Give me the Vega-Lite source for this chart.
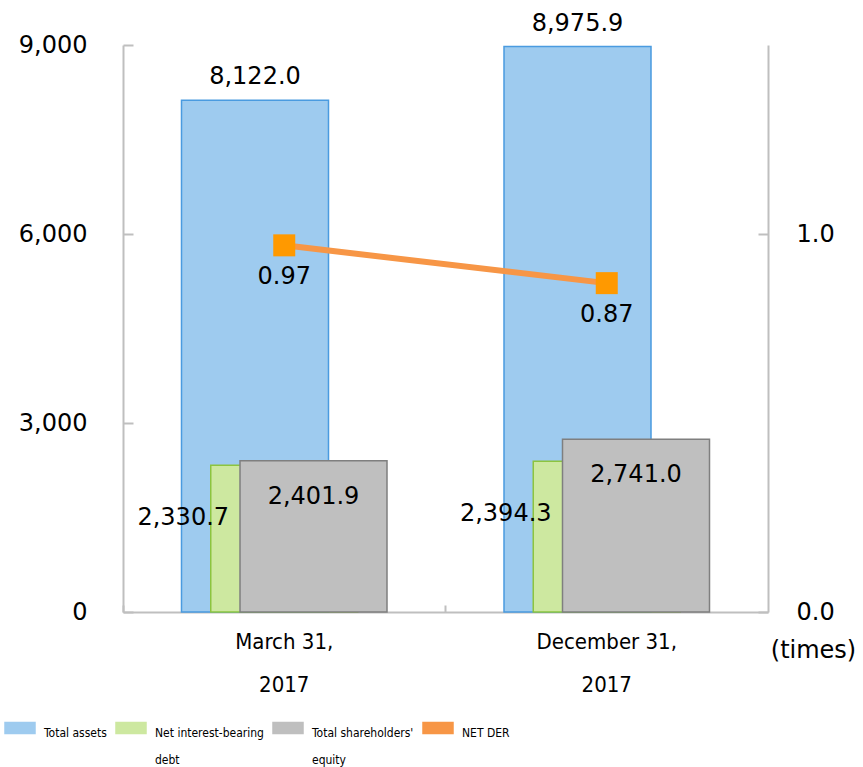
{
  "$schema": "https://vega.github.io/schema/vega-lite/v6.json",
  "autosize": {"type": "none"},
  "width": 645,
  "height": 567,
  "padding": {"left": 123, "top": 45, "right": 95, "bottom": 155},
  "background": "white",
  "config": {
    "view": {"stroke": null},
    "font": "DejaVu Sans",
    "style": {"guide-label": {"lineHeight": 27}},
    "axis": {"domainColor": "#bfbfbf", "domainWidth": 2, "tickColor": "#bfbfbf", "tickWidth": 2, "grid": false, "labelColor": "#000000", "labelFont": "DejaVu Sans", "labelFontSize": 24, "labelFlush": false, "title": null}
  },
  "datasets": {
    "bars": [
      {"date": "March 31, 2017", "series": "Total assets", "value": 8122.0},
      {"date": "March 31, 2017", "series": "Net interest-bearing debt", "value": 2330.7},
      {"date": "March 31, 2017", "series": "Total shareholders' equity", "value": 2401.9},
      {"date": "December 31, 2017", "series": "Total assets", "value": 8975.9},
      {"date": "December 31, 2017", "series": "Net interest-bearing debt", "value": 2394.3},
      {"date": "December 31, 2017", "series": "Total shareholders' equity", "value": 2741.0}
    ],
    "der": [
      {"date": "March 31, 2017", "series": "NET DER", "der": 0.97},
      {"date": "December 31, 2017", "series": "NET DER", "der": 0.87}
    ]
  },
  "layer": [
    {
      "data": {"name": "bars"},
      "encoding": {
        "x": {
          "field": "date", "type": "nominal", "sort": null,
          "scale": {"domain": ["March 31, 2017", "December 31, 2017"], "paddingInner": 0, "paddingOuter": 0},
          "axis": {"orient": "bottom", "labelAngle": 0, "labelExpr": "[replace(datum.label, ' 2017', ''), '2017']", "labelFont": "DejaVu Sans Condensed, DejaVu Sans", "labelFontSize": 22, "labelLineHeight": 43, "labelPadding": 19, "labelBaseline": "top", "ticks": false}
        },
        "xOffset": {"field": "series", "type": "nominal", "sort": null, "scale": {"type": "point", "padding": 0, "range": [132, 190.5], "domain": ["Total assets", "Net interest-bearing debt", "Total shareholders' equity"]}},
        "y": {
          "field": "value", "type": "quantitative", "stack": null,
          "scale": {"domain": [0, 9000], "nice": false},
          "axis": {"orient": "left", "values": [0, 3000, 6000, 9000], "format": ",.0f", "tickSize": -10, "labelPadding": 46}
        }
      },
      "layer": [
        {
          "mark": {"type": "bar", "width": 147, "strokeWidth": 1.5, "opacity": 1},
          "encoding": {
            "color": {
              "field": "series", "type": "nominal",
              "scale": {"domain": ["Total assets", "Net interest-bearing debt", "Total shareholders' equity", "NET DER"], "range": ["#9ecbef", "#cde8a0", "#bfbfbf", "#f79646"]},
              "legend": {
                "orient": "none", "legendX": -119, "legendY": 667, "direction": "horizontal", "title": null,
                "labelFont": "DejaVu Sans Condensed, DejaVu Sans", "labelFontSize": 12, "labelColor": "#000000",
                "symbolType": "M-1,-0.37H1V0.37H-1Z",
                "symbolSize": 900, "symbolStrokeWidth": 1.5, "symbolOpacity": 1, "columnPadding": 6, "labelOffset": 8,
                "labelBaseline": "top",
                "labelExpr": "datum.label == 'Net interest-bearing debt' ? ['Net interest-bearing', 'debt'] : indexof(datum.label, 'equity') >= 0 ? [\"Total shareholders'\", 'equity'] : [datum.label, ' ']"
              }
            },
            "stroke": {
              "field": "series", "type": "nominal",
              "scale": {"domain": ["Total assets", "Net interest-bearing debt", "Total shareholders' equity", "NET DER"], "range": ["#4a9be0", "#8cc43f", "#7f7f7f", "#f79646"]},
              "legend": null
            }
          }
        },
        {
          "transform": [{"filter": "datum.series == 'Total assets'"}],
          "mark": {"type": "text", "dy": -23, "baseline": "middle", "fontSize": 24, "color": "#000000"},
          "encoding": {"text": {"field": "value", "type": "quantitative", "format": ",.1f"}}
        },
        {
          "transform": [{"filter": "datum.series == 'Net interest-bearing debt'"}],
          "mark": {"type": "text", "dy": 53, "dx": -101, "baseline": "middle", "fontSize": 24, "color": "#000000"},
          "encoding": {"text": {"field": "value", "type": "quantitative", "format": ",.1f"}}
        },
        {
          "transform": [{"filter": "indexof(datum.series, 'equity') >= 0"}],
          "mark": {"type": "text", "dy": 36, "baseline": "middle", "fontSize": 24, "color": "#000000"},
          "encoding": {"text": {"field": "value", "type": "quantitative", "format": ",.1f"}}
        }
      ]
    },
    {
      "data": {"name": "der"},
      "encoding": {
        "x": {
          "field": "date", "type": "nominal", "sort": null,
          "scale": {"domain": ["March 31, 2017", "December 31, 2017"], "paddingInner": 0, "paddingOuter": 0},
          "axis": {"orient": "bottom", "labels": false, "domain": false, "ticks": true, "tickSize": -7, "bandPosition": 0}
        },
        "y": {
          "field": "der", "type": "quantitative",
          "scale": {"domain": [0, 1.5], "nice": false},
          "axis": {"orient": "right", "values": [0, 1], "format": ".1f", "tickSize": -10, "labelPadding": 38,
                   "title": "(times)", "titleAngle": 0, "titleX": 45, "titleY": 605, "titleAlign": "center", "titleBaseline": "middle", "titleFontSize": 24, "titleFontWeight": "normal", "titleFont": "DejaVu Sans", "titleColor": "#000000"}
        }
      },
      "layer": [
        {
          "mark": {"type": "line", "strokeWidth": 6},
          "encoding": {
            "color": {
              "field": "series", "type": "nominal",
              "scale": {"domain": ["Total assets", "Net interest-bearing debt", "Total shareholders' equity", "NET DER"], "range": ["#9ecbef", "#cde8a0", "#bfbfbf", "#f79646"]},
              "legend": null
            }
          }
        },
        {
          "mark": {"type": "square", "size": 484, "fill": "#ff9900", "opacity": 1}
        },
        {
          "mark": {"type": "text", "dy": 32, "baseline": "middle", "fontSize": 24, "color": "#000000"},
          "encoding": {"text": {"field": "der", "type": "quantitative", "format": ".2f"}}
        }
      ]
    }
  ],
  "resolve": {"scale": {"y": "independent"}, "axis": {"x": "independent"}}
}
